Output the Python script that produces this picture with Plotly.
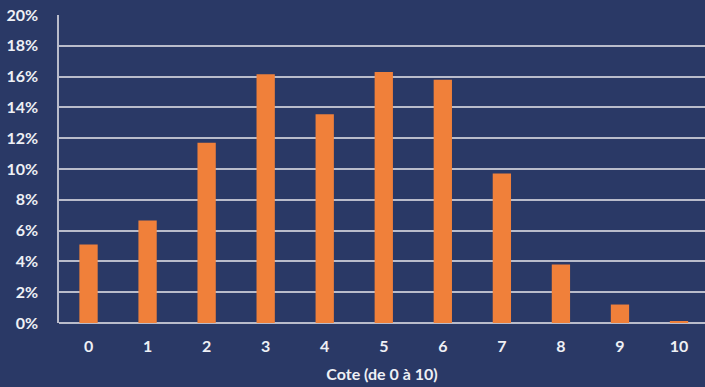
import plotly.graph_objects as go

# Distribution of scores (0-10), share of responses in percent
cotes = [str(i) for i in range(11)]
parts = [5.1, 6.65, 11.7, 16.15, 13.55, 16.3, 15.8, 9.7, 3.8, 1.2, 0.12]
y_ticks = list(range(0, 21, 2))
y_tick_labels = [f"{v}%" for v in y_ticks]

bg = "#2a3966"
bar_color = "#f0803a"
grid_color = "#b9bccb"
text_color = "#eef0f5"
font_family = "Lato, 'Open Sans', sans-serif"

fig = go.Figure(
    go.Bar(
        x=list(range(11)),
        y=parts,
        width=0.31,
        marker=dict(color=bar_color, line=dict(width=0)),
        hoverinfo="skip",
    )
)

fig.update_layout(
    width=705,
    height=387,
    margin=dict(l=59, r=0, t=15, b=64),
    paper_bgcolor=bg,
    plot_bgcolor=bg,
    showlegend=False,
    font=dict(family=font_family, color=text_color),
)

fig.update_xaxes(
    range=[-0.5, 10.44],
    tickmode="array",
    tickvals=list(range(11)),
    ticktext=cotes,
    tickfont=dict(size=16, family=font_family, color=text_color, weight="bold"),
    ticks="",
    ticklabelstandoff=12,
    showgrid=False,
    zeroline=False,
    showline=False,
    title=dict(
        text="Cote (de 0 à 10)",
        font=dict(size=16, family=font_family, color=text_color, weight="bold"),
        standoff=14,
    ),
)

fig.update_yaxes(
    range=[0, 20],
    tickmode="array",
    tickvals=y_ticks,
    ticktext=y_tick_labels,
    tickfont=dict(size=16, family=font_family, color=text_color, weight="bold"),
    ticks="",
    ticklabelstandoff=16,
    showgrid=True,
    gridcolor=grid_color,
    gridwidth=1.5,
    zeroline=True,
    zerolinecolor=grid_color,
    zerolinewidth=2,
    showline=True,
    linecolor=grid_color,
    linewidth=1.5,
)

fig.write_html("out.html")
